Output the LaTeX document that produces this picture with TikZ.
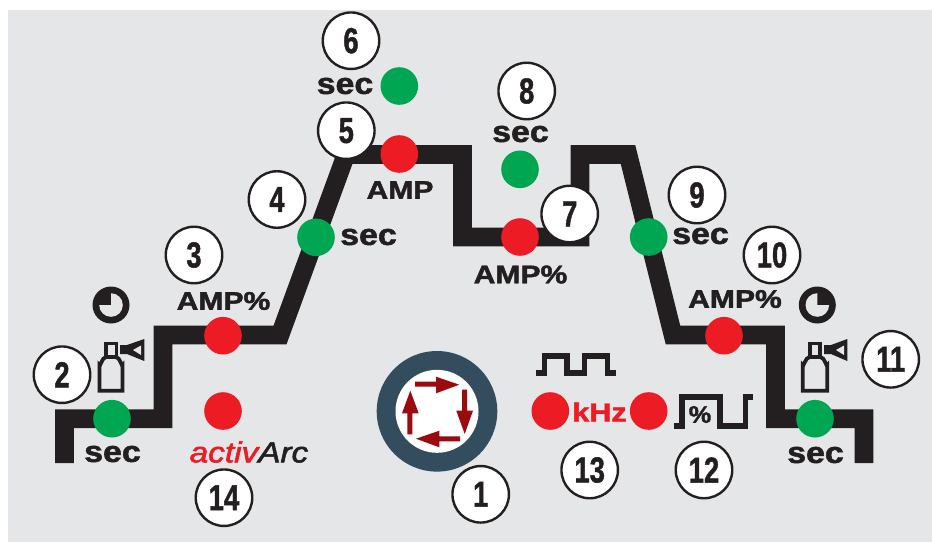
\documentclass[tikz,border=0pt]{standalone}
\usepackage{fontspec}
\setmainfont{Liberation Sans}
\newfontfamily\heavyfont{Liberation Sans Bold}[FakeBold=1.6]
\newfontfamily\numfont{Liberation Sans Bold}[FakeBold=1.4]
\newfontfamily\arcfont{Liberation Sans Italic}[FakeBold=1.8]
\definecolor{bgg}{HTML}{E4E6E8}
\definecolor{ink}{HTML}{231F20}
\definecolor{lred}{HTML}{ED1C24}
\definecolor{lgreen}{HTML}{00A651}
\definecolor{knob}{HTML}{334D5E}
\definecolor{arr}{HTML}{9B0A0E}
\newcommand{\numtxt}[1]{\scalebox{0.76}[1]{\fontsize{36}{36}\numfont #1}}
\newcommand{\lbl}[1]{\scalebox{1.18}[1]{\fontsize{25.5}{26}\heavyfont #1}}
\newcommand{\sectxt}{\scalebox{1.13}[1]{\fontsize{30}{30}\heavyfont sec}}
\tikzset{
  x=1pt,y=-1pt,
  numc/.style={circle,draw=ink,line width=2.4pt,fill=white,minimum size=56.5pt,inner sep=0pt,text=ink},
  rdot/.style={circle,fill=lred,minimum size=37.6pt,inner sep=0pt},
  gdot/.style={circle,fill=lgreen,minimum size=37.6pt,inner sep=0pt},
  txt/.style={text=ink,inner sep=0pt},
  profile/.style={draw=ink,line width=18.6pt,miter limit=10,line join=miter},
  thin icon/.style={draw=ink,line width=3.8pt,line join=miter},
  wave/.style={draw=ink,line width=5.6pt,line join=miter},
  turn/.style={fill=arr,draw=none}
}
\newcommand{\clockicon}[3]{% x y start-angle
  \fill[ink] (#1,#2) circle[radius=18.5];
  \fill[bgg] (#1,#2) -- ++(#3:11.8) arc[start angle=#3,delta angle=270,radius=11.8] -- cycle;
}
\begin{document}
\begin{tikzpicture}
\useasboundingbox (0,0) rectangle (932,542);
\fill[bgg] (8,10) rectangle (932,542);
% profile line
\coordinate (p0) at (64.5,463);\coordinate (p1) at (64.5,418.7);\coordinate (p2) at (163,418.7);
\coordinate (p3) at (163,335);\coordinate (p4) at (280,335);\coordinate (p5) at (346,154.5);
\coordinate (p6) at (462.5,154.5);\coordinate (p7) at (462.5,237);\coordinate (p8) at (580,237);
\coordinate (p9) at (580,154.5);\coordinate (p10) at (628,154.5);\coordinate (p11) at (673,335);
\coordinate (p12) at (775.5,335);\coordinate (p13) at (775.5,418.7);\coordinate (p14) at (864,418.7);
\coordinate (p15) at (864,463);
\draw[profile] (p0)--(p1)--(p2)--(p3)--(p4)--(p5)--(p6)--(p7)--(p8)--(p9)--(p10)--(p11)--(p12)--(p13)--(p14)--(p15);
% dots
\node[gdot] (d2) at (112,418.7) {};
\node[rdot] (d3) at (223,335.7) {};
\node[rdot] (d14) at (223,411) {};
\node[gdot] (d4) at (316,237.3) {};
\node[rdot] (d5) at (399.3,154) {};
\node[gdot] (d6) at (399.3,86) {};
\node[rdot] (d7) at (520,237) {};
\node[gdot] (d8) at (520,169.3) {};
\node[gdot] (d9) at (648.7,237) {};
\node[rdot] (d10) at (724,335.7) {};
\node[gdot] (d11) at (815,418.7) {};
\node[rdot] (d13) at (550.3,411) {};
\node[rdot] (d12) at (648.7,411) {};
% numbered circles
\node[numc] (n1) at (480.7,494.3) {\numtxt{1}};
\node[numc] (n2) at (62,374.7) {\numtxt{2}};
\node[numc] (n3) at (194,255) {\numtxt{3}};
\node[numc] (n4) at (277,199.5) {\numtxt{4}};
\node[numc] (n5) at (346.3,130.7) {\numtxt{5}};
\node[numc] (n6) at (351,40.7) {\numtxt{6}};
\node[numc] (n7) at (569.7,214) {\numtxt{7}};
\node[numc] (n8) at (526.7,91) {\numtxt{8}};
\node[numc] (n9) at (697,195) {\numtxt{9}};
\node[numc] (n10) at (772,255) {\numtxt{10}};
\node[numc] (n11) at (890.7,359.3) {\numtxt{11}};
\node[numc] (n12) at (704,470) {\numtxt{12}};
\node[numc] (n13) at (589.7,470) {\numtxt{13}};
\node[numc] (n14) at (224,497.7) {\numtxt{14}};
% labels
\node[txt] (s2) at (112.5,454) {\sectxt};
\node[txt] (s4) at (368.5,237) {\sectxt};
\node[txt] (s6) at (345,86) {\sectxt};
\node[txt] (s8) at (520.5,134) {\sectxt};
\node[txt] (s9) at (700.5,236) {\sectxt};
\node[txt] (s11) at (815.5,455) {\sectxt};
\node[txt] (a3) at (223.5,301) {\lbl{AMP\%}};
\node[txt] (a5) at (400,190) {\lbl{AMP}};
\node[txt] (a7) at (520.5,274.5) {\lbl{AMP\%}};
\node[txt] (a10) at (735,299) {\lbl{AMP\%}};
\node[inner sep=0pt,text=lred] (khz) at (599.5,412) {\scalebox{1.18}[1]{\fontsize{26}{26}\heavyfont kHz}};
\node[inner sep=0pt] (arc) at (249,452) {\scalebox{1.15}[1]{\fontsize{29}{30}\arcfont\textcolor{lred}{activ}\textcolor{ink}{Arc}}};
% knob
\fill[knob] (437,411.3) circle[radius=60.3];
\fill[white] (437,411.3) circle[radius=41.5];
\fill[turn] (415,381.5)--(436,381.5)--(436,376.7)--(459.3,384.7)--(436,393.3)--(436,386.7)--(415,386.7)--cycle;
\fill[turn] (462,389.7)--(467,389.7)--(467,410.7)--(473,410.7)--(464.7,434)--(456.3,410.7)--(462,410.7)--cycle;
\fill[turn] (460,436.3)--(439.3,436.3)--(439.3,430.7)--(416,438.7)--(439.3,447.3)--(439.3,441.3)--(460,441.3)--cycle;
\fill[turn] (407.3,434.3)--(412.3,434.3)--(412.3,413.3)--(418.7,413.3)--(410.3,390.7)--(402,413.3)--(407.3,413.3)--cycle;
% clocks
\clockicon{111}{305}{270}
\clockicon{817.3}{305}{0}
% cylinders
\draw[thin icon] (99.5,390.8)--(122.5,390.8)--(122.5,365) to[out=-90,in=0] (116,357)--(106,357) to[out=180,in=-90] (99.5,365)--cycle;
\draw[thin icon] (105.7,356)--(105.7,343.5)--(116.5,343.5)--(116.5,356);
\fill[ink] (120,345)--(127,345)--(144.3,339)--(144.3,361)--(127,354)--(120,354)--cycle;
\fill[bgg] (133,350)--(141,345.5)--(141,355)--cycle;
\draw[thin icon] (802.8,390.8)--(827.2,390.8)--(827.2,365) to[out=-90,in=0] (820.5,357)--(809.5,357) to[out=180,in=-90] (802.8,365)--cycle;
\draw[thin icon] (809.8,356)--(809.8,343.5)--(820.2,343.5)--(820.2,356);
\fill[ink] (824,345)--(831,345)--(847.3,339)--(847.3,361)--(831,354)--(824,354)--cycle;
\fill[bgg] (836,350)--(844,345.5)--(844,355)--cycle;
% waves
\draw[wave] (536,373)--(544.5,373)--(544.5,356.2)--(567,356.2)--(567,373)--(584.5,373)--(584.5,356.2)--(607.3,356.2)--(607.3,373)--(616,373);
\draw[wave] (674,426)--(682,426)--(682,397)--(719.7,397)--(719.7,426)--(745.5,426)--(745.5,397)--(752.7,397);
\node[txt] (pct) at (700,414.5) {\scalebox{1.05}[1]{\fontsize{24}{24}\heavyfont\%}};
\end{tikzpicture}
\end{document}
